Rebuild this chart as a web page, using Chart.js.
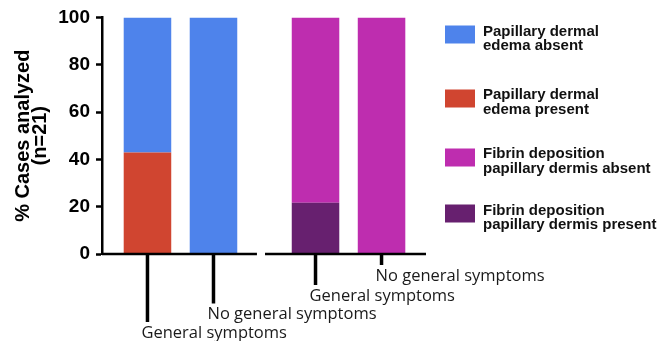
<!DOCTYPE html>
<html><head><meta charset="utf-8">
<script src="https://cdn.jsdelivr.net/npm/chart.js@4.4.1/dist/chart.umd.min.js"></script>
<style>
html,body{margin:0;padding:0;background:#fff;}
#wrap{position:relative;width:672px;height:341px;overflow:hidden;}
canvas{position:absolute;left:0;top:0;}
.lg{position:absolute;left:445px;display:flex;align-items:center;transform:translateY(-50%);}
.sw{width:30px;height:18px;margin-right:8px;flex:none;}
.tx{font:bold 15px "Liberation Sans",Arial,sans-serif;line-height:14.5px;color:#111;white-space:nowrap;position:relative;top:3px;}
</style></head>
<body>
<div id="wrap"><canvas id="c" width="672" height="341"></canvas><div id="legend"></div></div>
<script>
// ---- data ----
const groups = ['Papillary dermal edema', 'Fibrin deposition'];
const symptomGroups = ['General symptoms', 'No general symptoms'];
// values per symptom group: [General symptoms, No general symptoms]
const edemaAbsent   = [57.1, 100];
const edemaPresent  = [42.9, 0];
const fibrinAbsent  = [78.3, 100];
const fibrinPresent = [21.7, 0];
const yTickValues = [0, 20, 40, 60, 80, 100];
const yTitle = ['% Cases analyzed', '(n=21)'];
const legendLabels = [
  ['Papillary dermal', 'edema absent'],
  ['Papillary dermal', 'edema present'],
  ['Fibrin deposition', 'papillary dermis absent'],
  ['Fibrin deposition', 'papillary dermis present']
];
const colors = ['#4E83EB', '#D04530', '#BE2DAF', '#67206F'];

// series -> datasets (present drawn first so it sits at the bottom of a stack)
const series = [
  { legend: 1, group: 0, values: edemaPresent },
  { legend: 0, group: 0, values: edemaAbsent },
  { legend: 3, group: 1, values: fibrinPresent },
  { legend: 2, group: 1, values: fibrinAbsent }
];
const datasets = [];
series.forEach(s => {
  symptomGroups.forEach((sg, k) => {
    datasets.push({
      label: legendLabels[s.legend].join(' '),
      group: s.group,
      data: [{ x: s.group, y: s.values[k] }],
      stack: sg,
      backgroundColor: colors[s.legend],
      borderWidth: 0,
      categoryPercentage: 0.7857,
      barPercentage: 0.72
    });
  });
});

// broken x baseline, staggered ticks and labels under each bar
const xDecor = {
  id: 'xDecor',
  afterDatasetsDraw(chart) {
    const { ctx, chartArea, scales: { x } } = chart;
    const y0 = chartArea.bottom;
    ctx.save();
    ctx.strokeStyle = '#000';
    ctx.lineWidth = 2.5;
    [[x.min, 0.455], [0.503, x.max]].forEach(([a, b]) => {
      ctx.beginPath();
      ctx.moveTo(x.getPixelForValue(a), y0);
      ctx.lineTo(x.getPixelForValue(b), y0);
      ctx.stroke();
    });
    const bars = [];
    groups.forEach((g, gi) => {
      symptomGroups.forEach(sg => {
        const idx = chart.data.datasets.findIndex(d => d.group === gi && d.stack === sg);
        const el = chart.getDatasetMeta(idx).data[0];
        bars.push({ x: el.x, label: sg });
      });
    });
    bars.sort((a, b) => a.x - b.x);
    const tickLens = [68, 49.5, 31, 11];
    ctx.lineWidth = 3.5;
    ctx.font = '16.5px "Open Sans", sans-serif';
    ctx.fillStyle = '#1a1a1a';
    ctx.textAlign = 'left';
    ctx.textBaseline = 'alphabetic';
    bars.forEach((b, i) => {
      const len = tickLens[i];
      ctx.beginPath();
      ctx.moveTo(b.x, y0);
      ctx.lineTo(b.x, y0 + len);
      ctx.stroke();
      ctx.fillText(b.label, b.x - 6, y0 + len + 15.5);
    });
    ctx.restore();
  }
};

new Chart(document.getElementById('c'), {
  type: 'bar',
  data: { datasets },
  plugins: [xDecor],
  options: {
    responsive: false,
    animation: false,
    devicePixelRatio: 1,
    layout: { padding: { left: 0, top: 16, right: 246, bottom: 87 } },
    plugins: { legend: { display: false }, tooltip: { enabled: false } },
    scales: {
      x: {
        type: 'linear',
        display: false,
        offset: false,
        stacked: true,
        min: -0.467,
        max: 1.461,
        afterBuildTicks: s => { s.ticks = groups.map((g, i) => ({ value: i })); }
      },
      y: {
        stacked: true,
        min: 0,
        max: 100,
        afterFit: s => { s.width = 102; },
        afterBuildTicks: s => { s.ticks = yTickValues.map(v => ({ value: v })); },
        border: { display: true, color: '#000', width: 2.5 },
        grid: { display: true, drawOnChartArea: false, drawTicks: true, tickLength: 6, tickWidth: 2.5, tickColor: '#000', color: '#000' },
        ticks: { color: '#000', padding: 6, font: { family: '"Liberation Sans", Arial, sans-serif', size: 19, weight: 'bold' } },
        title: {
          display: true,
          text: yTitle,
          color: '#000',
          padding: { top: 14.5, bottom: 0 },
          font: { family: '"Liberation Sans", Arial, sans-serif', size: 20, weight: 'bold', lineHeight: 0.85 }
        }
      }
    }
  }
});

// legend built from the series labels/colours
const legendRowY = [34.8, 98.2, 157.2, 213.8];
const lg = document.getElementById('legend');
legendLabels.forEach((lines, i) => {
  const row = document.createElement('div');
  row.className = 'lg';
  row.style.top = legendRowY[i] + 'px';
  const sw = document.createElement('div');
  sw.className = 'sw';
  sw.style.background = colors[i];
  const tx = document.createElement('div');
  tx.className = 'tx';
  tx.innerHTML = lines.join('<br>');
  row.appendChild(sw);
  row.appendChild(tx);
  lg.appendChild(row);
});
</script>
</body></html>
